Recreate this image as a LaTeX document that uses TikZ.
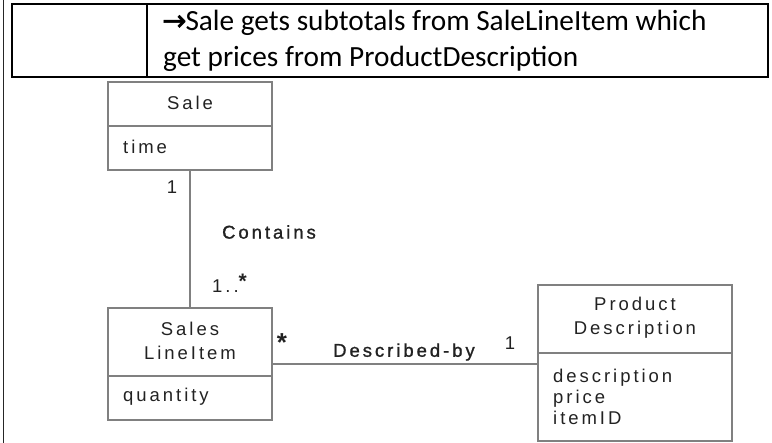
\documentclass[tikz,border=0pt]{standalone}
\usepackage{fontspec}
\setmainfont{Carlito}
\newfontfamily\umlfont[LetterSpace=16]{Liberation Sans}
\newfontfamily\umlboldfont[LetterSpace=16,FakeBold=1.2]{Liberation Sans}
\newfontfamily\arrowfont[FakeBold=1.5]{DejaVu Sans}
\definecolor{umlline}{HTML}{808080}
\definecolor{umltext}{HTML}{222222}
\tikzset{
  umlbox/.style={draw=umlline, line width=1.3pt, rectangle, inner sep=0pt},
  umldiv/.style={draw=umlline, line width=1.3pt},
  umllabel/.style={font=\umlfont\fontsize{18.5}{22}\selectfont, text=umltext, inner sep=0pt},
  assoclabel/.style={font=\umlboldfont\fontsize{18.5}{22}\selectfont, text=umltext, inner sep=0pt},
  tabline/.style={draw=black, line width=2.2pt},
  toptext/.style={font=\fontsize{29.3}{34}\selectfont, inner sep=0pt, anchor=base west}
}
\begin{document}
\begin{tikzpicture}[x=1pt,y=-1pt]
\useasboundingbox (0,0) rectangle (772,443);
% table header
\draw[draw=black!85, line width=1pt] (3,0) -- (3,443);
\node[tabline, minimum width=756, minimum height=73, inner sep=0pt] (tab) at (390,40.5) {};
\coordinate (dtop) at (147,4);
\coordinate (dbot) at (147,77);
\draw[tabline] (dtop) -- (dbot);
\node[toptext] (t1) at (163,30.5) {{\arrowfont\fontsize{29}{30}\selectfont\kern-1pt→\kern-1pt}Sale gets subtotals from SaleLineItem which};
\node[toptext] (t2) at (163,67) {get prices from ProductDescription};
% UML boxes
\node[umlbox, minimum width=164, minimum height=88] (sale) at (190,126) {};
\draw[umldiv] (sale.west) -- (sale.east);
\node[umllabel] (salename) at (190,103) {Sale};
\node[umllabel, anchor=west] (saletime) at (123,147) {time};

\node[umlbox, minimum width=164, minimum height=112] (sli) at (190,364) {};
\coordinate (slidl) at (108,376);
\coordinate (slidr) at (272,376);
\draw[umldiv] (slidl) -- (slidr);
\node[umllabel, align=center] (sliname) at (190,341) {Sales\\[2pt]LineItem};
\node[umllabel, anchor=west] (sliq) at (123,397) {quantity};

\node[umlbox, minimum width=194, minimum height=156] (pd) at (635,363) {};
\coordinate (pddl) at (538,353);
\coordinate (pddr) at (732,353);
\draw[umldiv] (pddl) -- (pddr);
\node[umllabel, align=center] (pdname) at (635,318) {Product\\[2pt]Description};
\node[umllabel, anchor=west, align=left] (pdattr) at (553,397) {description\\[-1pt]price\\[-1pt]itemID};

% connectors
\draw[umldiv] (sale.south) -- (sli.north);
\coordinate (pdleft) at (538,364);
\draw[umldiv] (sli.east |- pdleft) -- (pdleft);

% association labels
\node[assoclabel] (contains) at (269,232) {Contains};
\node[umllabel] (m1) at (172,187) {1};
\node[umllabel, anchor=base west] (m2) at (212,293) {1..\raisebox{4pt}{\fontsize{21}{21}\selectfont\textbf{*}}};
\node[umllabel] (m3) at (284,343) {\fontsize{26}{26}\selectfont\textbf{*}};
\node[umllabel] (m4) at (510,343) {1};
\node[assoclabel] (desc) at (404,352) {Described-by};
\end{tikzpicture}
\end{document}
